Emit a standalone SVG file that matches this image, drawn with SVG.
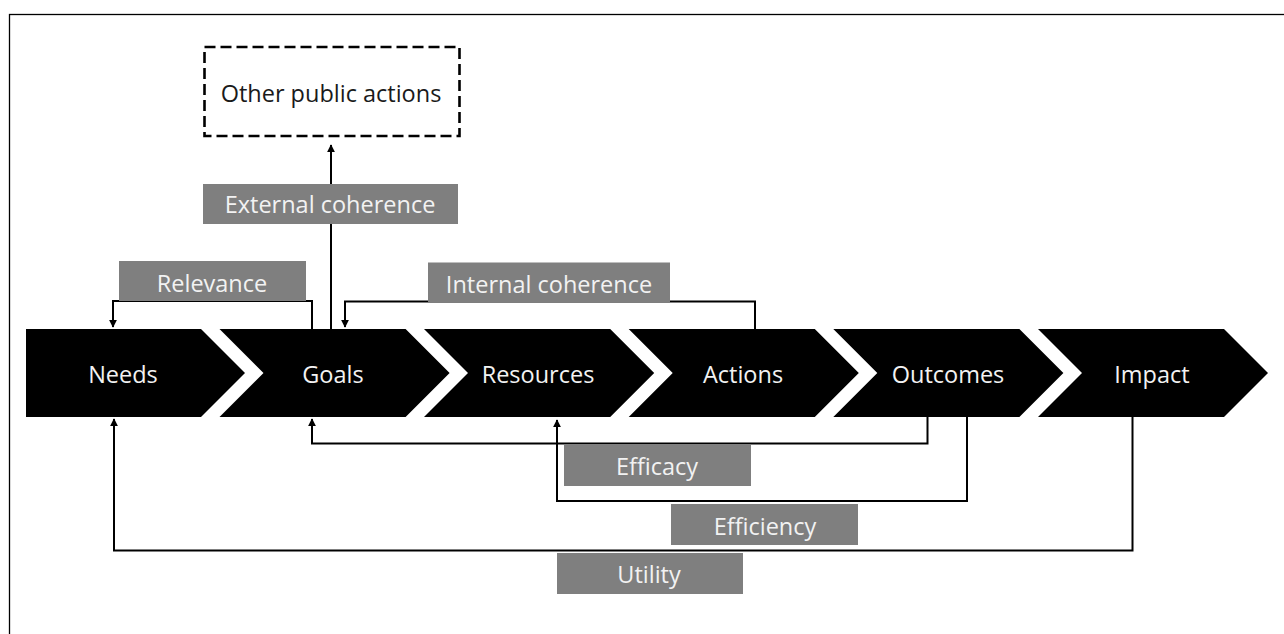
<svg xmlns="http://www.w3.org/2000/svg" width="1284" height="634" viewBox="0 0 1284 634">
<defs>
<style>
.chev{fill:#000}
.ct{font-family:"Open Sans","Liberation Sans",sans-serif;font-size:23.5px;fill:#f2f2f2;text-anchor:middle}
.lbl{fill:#7f7f7f}
.lt{font-family:"Open Sans","Liberation Sans",sans-serif;font-size:23.5px;fill:#f2f2f2;text-anchor:middle}
.conn{fill:none;stroke:#000;stroke-width:2}
</style>
<marker id="ah" viewBox="0 0 10 10" refX="9" refY="5" markerWidth="4" markerHeight="4" orient="auto" markerUnits="strokeWidth">
<path d="M0,0 L10,5 L0,10 z" fill="#000"/>
</marker>
</defs>
<rect x="0" y="0" width="1284" height="634" fill="#fff"/>
<rect x="9.5" y="14.5" width="1400" height="700" fill="none" stroke="#000" stroke-width="1.3"/>

<g id="connectors">
<path class="conn" d="M331,329 V145" marker-end="url(#ah)"/>
<path class="conn" d="M312,329 V301 H113 V327" marker-end="url(#ah)"/>
<path class="conn" d="M755,329 V301.5 H345 V327" marker-end="url(#ah)"/>
<path class="conn" d="M927.5,417 V443.5 H312 V419" marker-end="url(#ah)"/>
<path class="conn" d="M967,417 V501 H557 V420" marker-end="url(#ah)"/>
<path class="conn" d="M1132.5,417 V550.5 H114 V419" marker-end="url(#ah)"/>
</g>

<g id="other-public-actions">
<rect x="204.5" y="47" width="255" height="89" fill="#fff" stroke="#000" stroke-width="2.6" stroke-dasharray="11,5"/>
<text x="331" y="102" font-family="'Open Sans','Liberation Sans',sans-serif" font-size="23.5" fill="#1a1a1a" text-anchor="middle">Other public actions</text>
</g>

<g id="needs">
<polygon class="chev" points="26,329 201,329 245,373 201,417 26,417"/>
<text class="ct" x="123" y="383">Needs</text>
</g>
<g id="goals">
<polygon class="chev" points="219.5,329 405.6,329 449.6,373 405.6,417 219.5,417 263.5,373"/>
<text class="ct" x="333" y="383">Goals</text>
</g>
<g id="resources">
<polygon class="chev" points="424,329 610.2,329 654.2,373 610.2,417 424,417 468,373"/>
<text class="ct" x="538" y="383">Resources</text>
</g>
<g id="actions">
<polygon class="chev" points="628.7,329 814.8,329 858.8,373 814.8,417 628.7,417 672.7,373"/>
<text class="ct" x="743" y="383">Actions</text>
</g>
<g id="outcomes">
<polygon class="chev" points="833.3,329 1019.4,329 1063.4,373 1019.4,417 833.3,417 877.3,373"/>
<text class="ct" x="948" y="383">Outcomes</text>
</g>
<g id="impact">
<polygon class="chev" points="1038,329 1224,329 1268,373 1224,417 1038,417 1082,373"/>
<text class="ct" x="1152" y="383">Impact</text>
</g>

<g id="external-coherence">
<rect class="lbl" x="203" y="184" width="255" height="40"/>
<text class="lt" x="330" y="213">External coherence</text>
</g>
<g id="relevance">
<rect class="lbl" x="119" y="261" width="187" height="40"/>
<text class="lt" x="212" y="292">Relevance</text>
</g>
<g id="internal-coherence">
<rect class="lbl" x="428" y="262.5" width="242" height="40"/>
<text class="lt" x="549" y="292.5">Internal coherence</text>
</g>
<g id="efficacy">
<rect class="lbl" x="564" y="445" width="187" height="41"/>
<text class="lt" x="657" y="475">Efficacy</text>
</g>
<g id="efficiency">
<rect class="lbl" x="671" y="504" width="187" height="41"/>
<text class="lt" x="765" y="535">Efficiency</text>
</g>
<g id="utility">
<rect class="lbl" x="557" y="553" width="186" height="41"/>
<text class="lt" x="649" y="583">Utility</text>
</g>
</svg>
